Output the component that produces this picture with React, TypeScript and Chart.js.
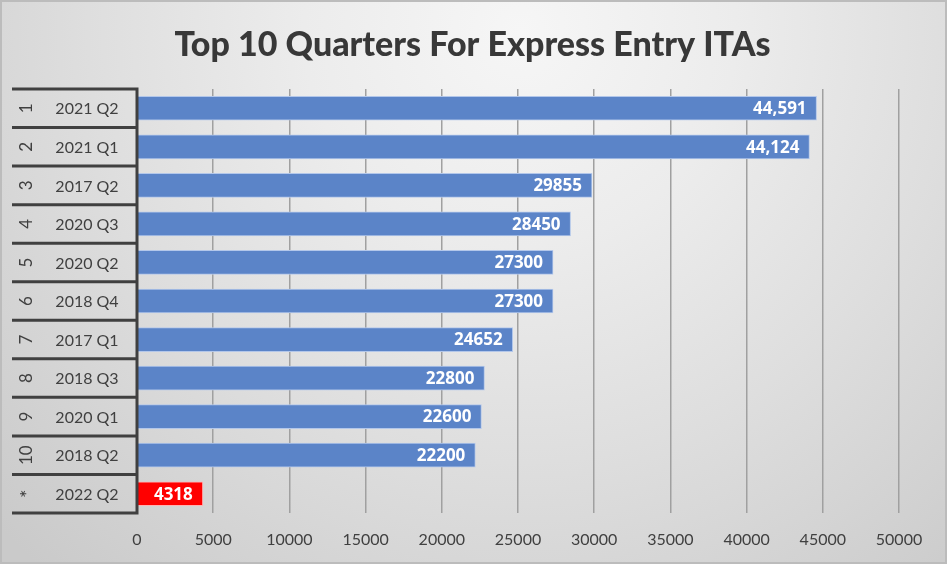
import React, { useEffect, useRef } from "react";
import { Chart, registerables } from "chart.js";

Chart.register(...registerables);

const ranks = ["1", "2", "3", "4", "5", "6", "7", "8", "9", "10", "*"];
const quarters = [
  "2021 Q2", "2021 Q1", "2017 Q2", "2020 Q3", "2020 Q2", "2018 Q4",
  "2017 Q1", "2018 Q3", "2020 Q1", "2018 Q2", "2022 Q2",
];
const itas = [44591, 44124, 29855, 28450, 27300, 27300, 24652, 22800, 22600, 22200, 4318];
const valueLabels = [
  "44,591", "44,124", "29855", "28450", "27300", "27300",
  "24652", "22800", "22600", "22200", "4318",
];
const xTickValues = [0, 5000, 10000, 15000, 20000, 25000, 30000, 35000, 40000, 45000, 50000];
const titleText = "Top 10 Quarters For Express Entry ITAs";

const TEXT = "#404040";

const backgroundPlugin = {
  id: "bgPlugin",
  beforeDraw(chart: any) {
    const { ctx, width, height } = chart;
    ctx.save();
    const g = ctx.createRadialGradient(520, 30, 0, 520, 30, 720);
    g.addColorStop(0, "#f6f6f6");
    g.addColorStop(0.3, "#ececec");
    g.addColorStop(0.6, "#dedede");
    g.addColorStop(1, "#cacaca");
    ctx.fillStyle = g;
    ctx.fillRect(0, 0, width, height);
    ctx.strokeStyle = "#bcbcbc";
    ctx.lineWidth = 2;
    ctx.strokeRect(1, 1, width - 2, height - 2);
    ctx.restore();
  },
};

const titlePlugin = {
  id: "centeredTitle",
  afterDraw(chart: any) {
    const { ctx, width } = chart;
    ctx.save();
    ctx.fillStyle = "#383838";
    ctx.font = "900 34px Lato";
    ctx.textAlign = "center";
    ctx.textBaseline = "middle";
    ctx.fillText(titleText, width / 2 - 1, 45);
    ctx.restore();
  },
};

const leftAxisPlugin = {
  id: "leftAxis",
  afterDraw(chart: any) {
    const { ctx, chartArea } = chart;
    const y = chart.scales.y;
    const n = quarters.length;
    const step = (chartArea.bottom - chartArea.top) / n;
    ctx.save();
    ctx.strokeStyle = TEXT;
    ctx.lineWidth = 3;
    ctx.beginPath();
    for (let i = 0; i < n; i++) {
      const cy = y.getPixelForValue(i);
      const yy = cy - step / 2;
      ctx.moveTo(12, yy);
      ctx.lineTo(chartArea.left, yy);
    }
    const last = y.getPixelForValue(n - 1) + step / 2;
    ctx.moveTo(12, last);
    ctx.lineTo(chartArea.left + 1.5, last);
    ctx.moveTo(chartArea.left, chartArea.top - 1.5);
    ctx.lineTo(chartArea.left, chartArea.bottom + 1.5);
    ctx.stroke();

    ctx.fillStyle = TEXT;
    ctx.textBaseline = "middle";
    for (let i = 0; i < n; i++) {
      const cy = y.getPixelForValue(i);
      ctx.textAlign = "center";
      ctx.font = "16px Lato";
      ctx.fillText(quarters[i], 87, cy + 1);
      ctx.save();
      ctx.translate(26, cy);
      ctx.rotate(-Math.PI / 2);
      ctx.font = ranks[i] === "*" ? "20px Lato" : "17px Lato";
      ctx.fillText(ranks[i], 0, ranks[i] === "*" ? 2 : 1);
      ctx.restore();
    }
    ctx.restore();
  },
};

const valueLabelPlugin = {
  id: "valueLabels",
  afterDatasetsDraw(chart: any) {
    const { ctx } = chart;
    const meta = chart.getDatasetMeta(0);
    ctx.save();
    ctx.fillStyle = "#ffffff";
    ctx.font = "bold 17px 'Open Sans'";
    ctx.textAlign = "right";
    ctx.textBaseline = "middle";
    meta.data.forEach((bar: any, i: number) => {
      ctx.fillText(valueLabels[i], bar.x - 10, bar.y + 1);
    });
    ctx.restore();
  },
};

export default function App() {
  const canvasRef = useRef<HTMLCanvasElement | null>(null);

  useEffect(() => {
    if (!canvasRef.current) return;
    Chart.defaults.font.family = "Lato";
    Chart.defaults.color = TEXT;
    const lastIdx = itas.length - 1;
    const chart = new Chart(canvasRef.current, {
      type: "bar",
      data: {
        labels: quarters,
        datasets: [
          {
            data: itas,
            backgroundColor: (c: any) => (c.dataIndex === lastIdx ? "#ff0000" : "#5b84c8"),
            borderColor: (c: any) => (c.dataIndex === lastIdx ? "#ffb3b3" : "#b3c7ea"),
            borderWidth: 1,
            barThickness: 24,
          },
        ],
      },
      plugins: [backgroundPlugin, leftAxisPlugin, valueLabelPlugin, titlePlugin],
      options: {
        indexAxis: "y",
        responsive: false,
        animation: false,
        layout: { padding: { left: 0, right: 48, top: 89, bottom: 0 } },
        plugins: {
          legend: { display: false },
          tooltip: { enabled: false },
          title: { display: false },
        },
        scales: {
          x: {
            type: "linear",
            position: "bottom",
            min: 0,
            max: 50000,
            afterBuildTicks: (scale: any) => {
              scale.ticks = xTickValues.map((v) => ({ value: v }));
            },
            afterFit: (scale: any) => {
              scale.height = 51;
            },
            ticks: {
              callback: (v: any) => String(v),
              font: { family: "Lato", size: 16 },
              color: TEXT,
              padding: 17,
              maxRotation: 0,
              autoSkip: false,
            },
            grid: {
              drawTicks: false,
              color: (c: any) => (c.tick && c.tick.value === 0 ? "rgba(0,0,0,0)" : "#a0a0a0"),
              lineWidth: 1.5,
            },
            border: { display: false },
          },
          y: {
            type: "category",
            offset: true,
            afterFit: (scale: any) => {
              scale.width = 137;
            },
            ticks: { display: false },
            grid: { display: false, drawTicks: false },
            border: { display: false },
          },
        },
      },
    } as any);
    return () => chart.destroy();
  }, []);

  return (
    <div style={{ position: "fixed", left: 0, top: 0, width: 947, height: 564 }}>
      <canvas ref={canvasRef} width={947} height={564} style={{ display: "block" }} />
    </div>
  );
}
